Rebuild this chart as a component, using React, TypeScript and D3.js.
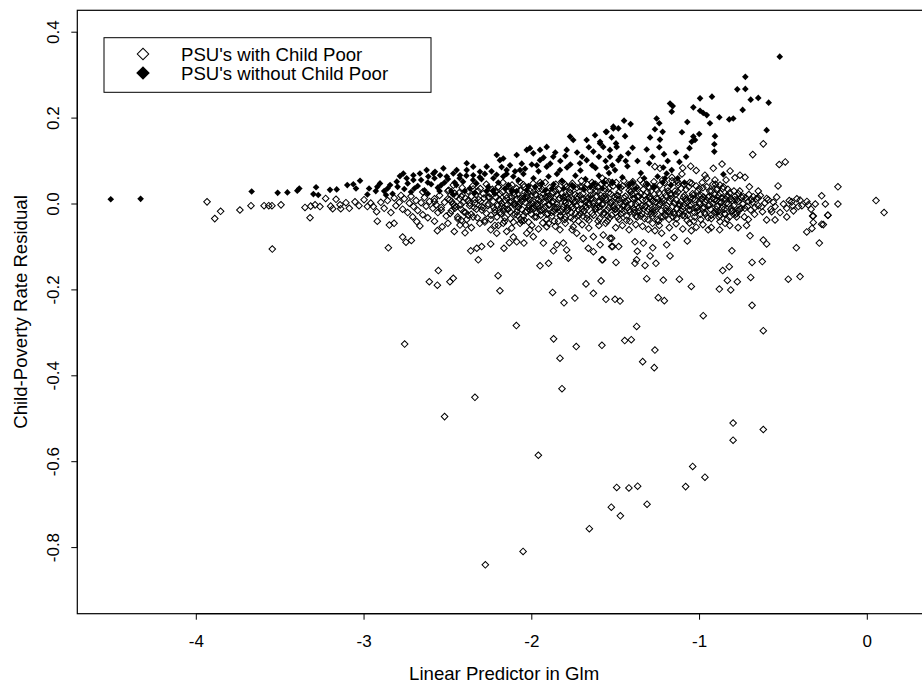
import React from 'react';
import * as d3 from 'd3';

// PSU's with child poor (open diamonds) — [linear predictor, residual]
const hollowLeft: [number, number][] = [
  [-3.936, 0.005], [-3.89, -0.034], [-3.855, -0.017], [-3.74, -0.014], [-3.674, -0.004],
  [-3.596, -0.004], [-3.568, -0.004], [-3.549, -0.004], [-3.495, -0.002], [-3.547, -0.105],
  [-3.352, -0.008], [-3.318, -0.005], [-3.292, -0.002], [-3.263, -0.006], [-3.229, 0.013],
  [-3.199, -0.005], [-3.167, 0.011], [-3.143, -0.002], [-3.108, 0.003], [-3.088, -0.01],
  [-3.054, 0.005], [-3.322, -0.032], [-3.187, -0.011], [-3.139, -0.011], [-3.03, -0.004],
  [-3.0, 0.01], [-2.98, -0.006], [-2.96, 0.002], [-2.945, -0.006], [-2.925, -0.018],
  [-2.921, -0.04], [-2.9, 0.004], [-2.88, -0.01], [-2.86, 0.008], [-2.849, -0.049],
  [-2.821, -0.045], [-2.84, -0.02], [-2.82, 0.014], [-2.81, -0.004], [-2.855, -0.102],
];

const hollowBand: [number, number][] = [
  [-2.79, 0.004], [-2.77, -0.012], [-2.76, 0.012], [-2.74, -0.02], [-2.73, 0.002], [-2.71, -0.03], [-2.72, 0.018], [-2.705, -0.006],
  [-2.69, 0.008], [-2.68, -0.015], [-2.66, 0.003], [-2.65, -0.025], [-2.64, 0.015], [-2.63, -0.005], [-2.62, -0.032], [-2.61, 0.006],
  [-2.59, -0.01], [-2.58, 0.012], [-2.57, -0.002], [-2.56, -0.02], [-2.55, 0.02], [-2.54, -0.008], [-2.52, 0.004], [-2.51, -0.028],
  [-2.49, 0.01], [-2.48, -0.016], [-2.47, 0.0], [-2.46, 0.025], [-2.45, -0.006], [-2.44, -0.035], [-2.43, 0.012], [-2.42, -0.012], [-2.41, 0.004],
  [-2.395, -0.02], [-2.38, 0.008], [-2.37, -0.004], [-2.36, 0.018], [-2.35, -0.03], [-2.34, 0.002], [-2.33, -0.012], [-2.32, 0.03], [-2.31, -0.045], [-2.305, 0.006],
  [-2.29, -0.008], [-2.285, 0.014], [-2.27, -0.022], [-2.26, 0.0], [-2.25, 0.024], [-2.245, -0.036], [-2.23, 0.006], [-2.22, -0.014], [-2.215, 0.016], [-2.205, -0.004], [-2.2, -0.05],
  [-2.195, 0.01], [-2.19, -0.02], [-2.18, 0.002], [-2.175, 0.028], [-2.165, -0.01], [-2.16, -0.032], [-2.15, 0.014], [-2.145, -0.002], [-2.135, 0.04], [-2.13, -0.018], [-2.12, 0.006], [-2.11, -0.042], [-2.105, 0.02],
  [-2.098, -0.006], [-2.09, 0.012], [-2.085, -0.026], [-2.075, 0.0], [-2.07, 0.032], [-2.06, -0.012], [-2.055, 0.018], [-2.045, -0.038], [-2.04, 0.004], [-2.03, -0.016], [-2.025, 0.026], [-2.015, -0.004], [-2.01, 0.01], [-2.002, -0.024],
  [-1.995, 0.008], [-1.988, -0.01], [-1.98, 0.022], [-1.972, -0.03], [-1.965, 0.0], [-1.958, 0.036], [-1.95, -0.016], [-1.942, 0.014], [-1.935, -0.044], [-1.928, 0.004], [-1.92, -0.006], [-1.912, 0.028], [-1.905, -0.022], [-1.9, 0.012],
  [-1.895, -0.002], [-1.888, 0.018], [-1.88, -0.028], [-1.872, 0.006], [-1.865, -0.012], [-1.858, 0.03], [-1.85, 0.0], [-1.842, -0.04], [-1.835, 0.014], [-1.828, -0.018], [-1.82, 0.024], [-1.812, -0.006], [-1.805, 0.008], [-1.8, -0.03],
  [-1.795, 0.016], [-1.788, -0.008], [-1.78, 0.002], [-1.772, 0.034], [-1.765, -0.02], [-1.758, 0.01], [-1.75, -0.036], [-1.742, 0.022], [-1.735, -0.004], [-1.728, 0.012], [-1.72, -0.026], [-1.712, 0.04], [-1.705, 0.0], [-1.7, -0.012],
  [-1.695, 0.024], [-1.688, -0.016], [-1.68, 0.006], [-1.672, -0.034], [-1.665, 0.014], [-1.658, -0.002], [-1.65, 0.03], [-1.642, -0.022], [-1.635, 0.002], [-1.628, 0.044], [-1.62, -0.01], [-1.612, 0.018], [-1.605, -0.04], [-1.6, 0.008],
  [-1.595, -0.006], [-1.588, 0.02], [-1.58, 0.0], [-1.572, -0.024], [-1.565, 0.036], [-1.558, 0.01], [-1.55, -0.014], [-1.542, 0.026], [-1.535, -0.032], [-1.528, 0.004], [-1.52, 0.05], [-1.512, -0.008], [-1.505, 0.016], [-1.5, -0.02],
  [-1.495, 0.012], [-1.488, -0.03], [-1.48, 0.028], [-1.472, 0.002], [-1.465, -0.012], [-1.458, 0.042], [-1.45, -0.004], [-1.442, 0.018], [-1.435, -0.038], [-1.428, 0.008], [-1.42, 0.032], [-1.412, -0.018], [-1.405, 0.0], [-1.4, 0.022],
  [-1.395, -0.01], [-1.388, 0.014], [-1.38, -0.028], [-1.372, 0.036], [-1.365, 0.004], [-1.358, -0.016], [-1.35, 0.024], [-1.342, -0.004], [-1.335, 0.048], [-1.328, -0.034], [-1.32, 0.01], [-1.312, 0.028], [-1.305, -0.012], [-1.3, 0.002],
  [-1.295, 0.018], [-1.288, -0.022], [-1.28, 0.006], [-1.272, 0.04], [-1.265, -0.008], [-1.258, 0.014], [-1.25, -0.036], [-1.242, 0.026], [-1.235, 0.0], [-1.228, -0.016], [-1.22, 0.056], [-1.212, 0.008], [-1.205, -0.026], [-1.2, 0.02],
  [-1.195, -0.004], [-1.188, 0.03], [-1.18, -0.018], [-1.172, 0.012], [-1.165, 0.062], [-1.158, -0.03], [-1.15, 0.002], [-1.142, 0.022], [-1.135, -0.01], [-1.128, 0.044], [-1.12, -0.022], [-1.112, 0.006], [-1.105, 0.07], [-1.1, -0.006],
  [-1.095, 0.016], [-1.088, -0.028], [-1.08, 0.034], [-1.072, 0.004], [-1.065, -0.014], [-1.058, 0.05], [-1.05, -0.002], [-1.042, 0.024], [-1.035, -0.04], [-1.028, 0.01], [-1.02, 0.078], [-1.012, -0.016], [-1.005, 0.02], [-1.0, 0.0],
  [-0.995, -0.024], [-0.988, 0.012], [-0.98, 0.038], [-0.972, -0.008], [-0.965, 0.004], [-0.958, 0.06], [-0.95, -0.032], [-0.942, 0.018], [-0.935, -0.012], [-0.928, 0.03], [-0.92, 0.002], [-0.912, -0.02], [-0.905, 0.046], [-0.9, 0.008],
  [-0.895, -0.006], [-0.886, 0.02], [-0.878, -0.026], [-0.87, 0.004], [-0.862, 0.036], [-0.853, -0.012], [-0.845, 0.012], [-0.836, -0.036], [-0.828, 0.0], [-0.82, 0.026], [-0.812, -0.016], [-0.805, 0.008],
  [-0.796, -0.004], [-0.788, 0.018], [-0.778, -0.022], [-0.77, 0.006], [-0.76, 0.03], [-0.752, -0.01], [-0.742, 0.0], [-0.733, -0.03], [-0.724, 0.014], [-0.715, -0.006], [-0.706, 0.022],
  [-0.695, -0.014], [-0.685, 0.004], [-0.672, -0.024], [-0.662, 0.012], [-0.65, -0.004], [-0.638, 0.02], [-0.625, -0.018], [-0.612, 0.002],
  [-0.59, 0.01], [-0.575, -0.012], [-0.56, 0.004], [-0.54, 0.016], [-0.52, -0.02], [-0.5, 0.0], [-0.465, 0.008], [-0.44, -0.016], [-0.42, 0.012], [-0.39, -0.004], [-0.36, 0.006], [-0.335, -0.012], [-0.31, 0.0],
];

const hollowCore: [number, number][] = [
  [-2.18, -0.006], [-2.16, 0.008], [-2.14, -0.012], [-2.12, 0.016], [-2.1, 0.0], [-2.08, -0.008], [-2.06, 0.006], [-2.04, 0.014], [-2.02, -0.01], [-2.0, 0.002],
  [-1.98, -0.004], [-1.96, 0.01], [-1.94, -0.014], [-1.92, 0.016], [-1.9, -0.002], [-1.88, 0.004], [-1.86, -0.008], [-1.84, 0.01], [-1.82, -0.012], [-1.8, 0.002],
  [-1.78, 0.012], [-1.76, -0.006], [-1.74, 0.006], [-1.72, -0.014], [-1.7, 0.01], [-1.68, -0.004], [-1.66, 0.002], [-1.64, 0.012], [-1.62, -0.012], [-1.6, 0.004],
  [-1.58, -0.002], [-1.56, 0.014], [-1.54, -0.008], [-1.52, 0.006], [-1.5, -0.012], [-1.48, 0.01], [-1.46, -0.004], [-1.44, 0.004], [-1.42, -0.014], [-1.4, 0.012],
  [-1.38, 0.0], [-1.36, -0.008], [-1.34, 0.01], [-1.32, -0.004], [-1.3, 0.014], [-1.28, -0.012], [-1.26, 0.004], [-1.24, -0.002], [-1.22, 0.012], [-1.2, -0.01],
  [-1.18, 0.006], [-1.16, -0.006], [-1.14, 0.01], [-1.12, 0.0], [-1.1, -0.012], [-1.08, 0.008], [-1.06, -0.004], [-1.04, 0.012], [-1.02, -0.008], [-1.0, 0.004],
  [-0.98, -0.01], [-0.96, 0.01], [-0.94, -0.002], [-0.92, 0.014], [-0.9, -0.012], [-0.88, 0.006], [-0.86, -0.006], [-0.84, 0.002],
];

const hollowCore2: [number, number][] = [
  [-2.58, 0.006], [-2.54, -0.014], [-2.5, 0.012], [-2.46, -0.004], [-2.42, 0.018], [-2.38, -0.026], [-2.34, 0.01], [-2.3, -0.006],
  [-2.26, 0.016], [-2.22, -0.02], [-2.19, 0.024], [-2.17, -0.016], [-2.13, 0.004], [-2.11, 0.026], [-2.09, -0.018], [-2.07, 0.014],
  [-2.05, -0.028], [-2.03, 0.02], [-2.01, -0.014], [-1.99, 0.028], [-1.97, -0.02], [-1.95, 0.006], [-1.93, 0.024], [-1.91, -0.024],
  [-1.89, 0.012], [-1.87, -0.018], [-1.85, 0.022], [-1.83, -0.026], [-1.81, 0.016], [-1.79, -0.016], [-1.77, 0.026], [-1.75, -0.01],
  [-1.73, 0.018], [-1.71, -0.022], [-1.69, 0.012], [-1.67, -0.026], [-1.65, 0.02], [-1.63, -0.006], [-1.61, 0.03], [-1.59, -0.018],
  [-1.57, 0.018], [-1.55, -0.028], [-1.53, 0.024], [-1.51, -0.004], [-1.49, 0.02], [-1.47, -0.024], [-1.45, 0.014], [-1.43, -0.008],
  [-1.41, 0.028], [-1.39, -0.02], [-1.37, 0.018], [-1.35, -0.028], [-1.33, 0.02], [-1.31, -0.018], [-1.29, 0.03], [-1.27, -0.022],
  [-1.25, 0.012], [-1.23, -0.03], [-1.21, 0.026], [-1.19, -0.018], [-1.17, 0.02], [-1.15, -0.024], [-1.13, 0.028], [-1.11, -0.016],
  [-1.09, 0.02], [-1.07, -0.026], [-1.05, 0.016], [-1.03, -0.02], [-1.01, 0.03], [-0.99, 0.02], [-0.97, -0.02], [-0.95, 0.016],
  [-0.93, -0.026], [-0.91, 0.022], [-0.89, -0.018], [-0.87, 0.014], [-0.85, -0.022], [-0.83, 0.018], [-0.81, -0.01], [-0.79, 0.01],
  [-0.77, -0.014], [-0.75, 0.016], [-0.73, -0.01], [-0.71, 0.006], [-0.69, 0.01], [-0.67, -0.008], [-0.65, 0.014], [-0.63, -0.006],
];

const hollowDense: [number, number][] = [
  [-2.495, 0.032], [-2.487, -0.022], [-2.478, 0.006], [-2.468, 0.044], [-2.459, -0.01], [-2.451, 0.018], [-2.442, -0.03], [-2.433, 0.026], [-2.424, -0.002], [-2.415, 0.038],
  [-2.406, -0.018], [-2.397, 0.014], [-2.388, -0.036], [-2.379, 0.03], [-2.37, 0.002], [-2.361, -0.024], [-2.352, 0.042], [-2.343, -0.008], [-2.334, 0.022], [-2.325, -0.032],
  [-2.316, 0.01], [-2.307, 0.036], [-2.298, -0.014], [-2.289, 0.024], [-2.28, -0.038], [-2.271, 0.046], [-2.262, -0.004], [-2.253, 0.016], [-2.244, -0.026], [-2.235, 0.034],
  [-2.226, -0.008], [-2.217, 0.028], [-2.208, -0.03], [-2.199, 0.04], [-2.19, 0.008], [-2.181, -0.022], [-2.172, 0.05], [-2.163, -0.04], [-2.154, 0.02], [-2.145, -0.012],
  [-2.136, 0.03], [-2.127, -0.034], [-2.118, 0.044], [-2.109, 0.0], [-2.1, -0.024], [-2.091, 0.036], [-2.082, -0.006], [-2.073, 0.052], [-2.064, -0.036], [-2.055, 0.012],
  [-2.046, 0.04], [-2.037, -0.02], [-2.028, 0.016], [-2.019, -0.042], [-2.01, 0.03], [-2.001, -0.01], [-1.992, 0.048], [-1.983, -0.03], [-1.974, 0.022], [-1.965, -0.004],
  [-1.956, 0.042], [-1.947, -0.026], [-1.938, 0.034], [-1.929, -0.012], [-1.92, 0.05], [-1.911, -0.036], [-1.902, 0.018], [-1.893, 0.038], [-1.884, -0.02], [-1.875, 0.026],
  [-1.866, -0.04], [-1.857, 0.046], [-1.848, -0.008], [-1.839, 0.034], [-1.83, -0.028], [-1.821, 0.052], [-1.812, 0.016], [-1.803, -0.036], [-1.794, 0.04], [-1.785, -0.014],
  [-1.776, 0.028], [-1.767, -0.032], [-1.758, 0.048], [-1.749, 0.004], [-1.74, -0.022], [-1.731, 0.038], [-1.722, -0.04], [-1.713, 0.02], [-1.704, 0.054], [-1.695, -0.028],
  [-1.686, 0.036], [-1.677, -0.01], [-1.668, 0.046], [-1.659, -0.038], [-1.65, 0.012], [-1.641, 0.05], [-1.632, -0.026], [-1.623, 0.03], [-1.614, -0.006], [-1.605, 0.04],
  [-1.596, -0.034], [-1.587, 0.046], [-1.578, 0.014], [-1.569, -0.02], [-1.56, 0.054], [-1.551, -0.04], [-1.542, 0.036], [-1.533, 0.002], [-1.524, -0.026], [-1.515, 0.042],
  [-1.506, -0.012], [-1.497, 0.05], [-1.488, 0.02], [-1.479, -0.036], [-1.47, 0.038], [-1.461, -0.02], [-1.452, 0.054], [-1.443, 0.006], [-1.434, -0.028], [-1.425, 0.044],
  [-1.416, -0.04], [-1.407, 0.03], [-1.398, 0.052], [-1.389, -0.014], [-1.38, 0.04], [-1.371, -0.03], [-1.362, 0.018], [-1.353, 0.056], [-1.344, -0.022], [-1.335, 0.034],
  [-1.326, -0.006], [-1.317, 0.046], [-1.308, -0.036], [-1.299, 0.038], [-1.29, 0.012], [-1.281, -0.028], [-1.272, 0.052], [-1.263, -0.014], [-1.254, 0.032], [-1.245, -0.04],
  [-1.236, 0.044], [-1.227, 0.004], [-1.218, -0.03], [-1.209, 0.05], [-1.2, -0.016], [-1.191, 0.038], [-1.182, -0.036], [-1.173, 0.024], [-1.164, 0.054], [-1.155, -0.02],
  [-1.146, 0.03], [-1.137, -0.034], [-1.128, 0.05], [-1.119, -0.004], [-1.11, 0.036], [-1.101, -0.026], [-1.092, 0.046], [-1.083, 0.012], [-1.074, -0.038], [-1.065, 0.04],
  [-1.056, -0.014], [-1.047, 0.048], [-1.038, 0.02], [-1.029, -0.03], [-1.02, 0.042], [-1.011, -0.008], [-1.002, 0.036], [-0.993, -0.036], [-0.984, 0.05], [-0.975, 0.016],
  [-0.966, -0.024], [-0.957, 0.04], [-0.948, -0.004], [-0.939, 0.03], [-0.93, -0.034], [-0.921, 0.046], [-0.912, 0.01], [-0.903, -0.018], [-0.894, 0.036], [-0.885, -0.03],
  [-0.876, 0.024], [-0.867, -0.01], [-0.858, 0.04], [-0.849, -0.024], [-0.84, 0.018], [-0.831, 0.034], [-0.822, -0.03], [-0.813, 0.012], [-0.804, -0.016], [-0.795, 0.03],
  [-0.786, -0.024], [-0.777, 0.01], [-0.768, 0.024], [-0.759, -0.012],
];

const hollowEdge: [number, number][] = [
  [-2.58, -0.04], [-2.5, -0.045], [-2.42, -0.038], [-2.36, -0.055], [-2.28, -0.042], [-2.22, -0.05], [-2.17, -0.045], [-2.12, -0.056],
  [-2.06, -0.04], [-2.0, -0.05], [-1.96, -0.058], [-1.9, -0.045], [-1.86, -0.052], [-1.8, -0.045], [-1.76, -0.06], [-1.7, -0.048],
  [-1.66, -0.056], [-1.6, -0.05], [-1.56, -0.045], [-1.5, -0.055], [-1.46, -0.05], [-1.42, -0.06], [-1.38, -0.048], [-1.34, -0.052],
  [-1.28, -0.045], [-1.24, -0.05], [-1.18, -0.055], [-1.14, -0.046], [-1.1, -0.058], [-1.06, -0.044], [-1.02, -0.054], [-0.98, -0.048],
  [-0.93, -0.055], [-0.88, -0.06], [-0.82, -0.05], [-0.77, -0.055], [-0.72, -0.05],
  [-1.58, 0.06], [-1.54, 0.052], [-1.62, 0.046], [-1.7, 0.04], [-1.8, 0.045], [-1.95, 0.05], [-2.05, 0.045], [-2.2, 0.04],
  [-2.35, 0.035], [-2.5, 0.03], [-2.65, 0.028], [-2.78, 0.02],
];

const hollowRight: [number, number][] = [
  [-0.62, 0.14], [-0.683, 0.115], [-0.525, 0.092], [-0.489, 0.098], [-0.532, 0.042], [-0.175, 0.04], [-0.866, 0.093],
  [-0.918, 0.083], [-0.818, 0.077], [-0.789, 0.061], [-0.759, 0.067], [-0.729, 0.062], [-1.053, 0.088], [-1.1, 0.084],
  [-1.136, 0.054], [-1.236, 0.083], [-1.266, 0.087], [-0.968, 0.067], [-0.908, 0.056], [-0.878, 0.044], [-0.842, 0.056],
  [-0.898, 0.033], [-0.703, 0.04], [-0.65, 0.03], [-0.739, 0.017], [-0.68, 0.017], [-0.6, 0.013], [-0.55, -0.006],
  [-0.451, 0.005], [-0.401, 0.009], [-0.352, -0.002], [-0.272, 0.019], [-0.25, 0.0], [-0.175, 0.0], [-0.236, -0.026],
  [-0.272, -0.047], [-0.322, -0.028], [-0.48, -0.03], [-0.411, -0.006], [-0.445, -0.004], [-0.48, -0.01], [0.052, 0.008], [0.1, -0.02],
];

const hollowLow: [number, number][] = [
  [-2.77, -0.077], [-2.75, -0.089], [-2.718, -0.085], [-2.686, -0.041], [-2.667, -0.051], [-2.563, -0.062], [-2.534, -0.053],
  [-2.462, -0.064], [-2.398, -0.067], [-2.428, -0.049], [-2.394, -0.049], [-2.557, -0.155], [-2.611, -0.181], [-2.563, -0.189],
  [-2.488, -0.181], [-2.468, -0.173], [-2.364, -0.109], [-2.319, -0.13], [-2.299, -0.099], [-2.328, -0.103], [-2.245, -0.06],
  [-2.209, -0.068], [-2.245, -0.093], [-2.201, -0.167], [-2.19, -0.202], [-2.166, -0.103], [-2.134, -0.09], [-2.11, -0.077],
  [-2.09, -0.088], [-2.047, -0.091], [-2.15, -0.064], [-2.03, -0.068], [-1.991, -0.076], [-1.931, -0.091], [-1.951, -0.144],
  [-1.9, -0.138], [-1.871, -0.109], [-1.851, -0.095], [-1.812, -0.091], [-1.792, -0.107], [-1.782, -0.126], [-1.876, -0.206],
  [-1.808, -0.23], [-1.743, -0.219], [-1.677, -0.186], [-1.633, -0.208], [-1.587, -0.179], [-1.558, -0.222], [-1.504, -0.222],
  [-1.663, -0.103], [-1.633, -0.111], [-1.593, -0.095], [-1.524, -0.099], [-1.498, -0.136], [-1.582, -0.13], [-1.732, -0.068],
  [-1.693, -0.08], [-1.633, -0.076], [-1.574, -0.072], [-1.524, -0.08], [-2.07, -0.045], [-2.011, -0.06], [-1.911, -0.053],
  [-1.832, -0.06], [-1.753, -0.053],
  [-2.758, -0.326], [-2.52, -0.495], [-2.339, -0.45], [-2.277, -0.84], [-2.052, -0.809], [-2.092, -0.283], [-1.961, -0.585],
  [-1.87, -0.314], [-1.832, -0.359], [-1.82, -0.43], [-1.735, -0.332], [-1.657, -0.756], [-1.582, -0.329], [-1.526, -0.706],
  [-1.494, -0.66], [-1.472, -0.726], [-1.446, -0.318], [-1.421, -0.661], [-1.407, -0.316], [-1.375, -0.285], [-1.369, -0.657],
  [-1.339, -0.367], [-1.313, -0.699], [-1.27, -0.381], [-1.266, -0.34], [-1.246, -0.218], [-1.21, -0.225], [-1.083, -0.658],
  [-1.041, -0.611], [-0.968, -0.636], [-0.978, -0.26], [-1.049, -0.192], [-1.474, -0.226],
  [-0.286, -0.091], [-0.262, -0.048], [-0.234, -0.026], [-0.326, -0.028], [-0.322, -0.043], [-0.33, -0.057], [-0.361, -0.065],
  [-0.401, -0.169], [-0.471, -0.175], [-0.423, -0.102], [-0.62, -0.084], [-0.6, -0.093], [-0.626, -0.134], [-0.687, -0.136],
  [-0.699, -0.074], [-0.807, -0.109], [-0.823, -0.146], [-0.862, -0.155], [-0.834, -0.178], [-0.775, -0.181], [-0.882, -0.198],
  [-0.814, -0.2], [-0.695, -0.171], [-0.687, -0.236], [-1.12, -0.175], [-1.216, -0.177], [-1.315, -0.174], [-1.577, -0.13],
  [-1.176, -0.121], [-1.26, -0.138], [-1.325, -0.143], [-1.295, -0.121], [-1.375, -0.13], [-1.385, -0.138], [-1.371, -0.11],
  [-1.279, -0.102], [-1.335, -0.091], [-1.385, -0.088], [-1.073, -0.086], [-1.196, -0.095], [-1.152, -0.078], [-1.518, -0.099],
  [-1.482, -0.099], [-1.534, -0.08], [-1.305, -0.059], [-1.266, -0.062], [-1.226, -0.068], [-1.049, -0.062], [-0.948, -0.06],
  [-0.709, -0.036], [-0.779, -0.03], [-0.848, -0.045], [-0.878, -0.041], [-0.6, -0.037], [-0.55, -0.037], [-0.57, -0.018],
  [-0.8, -0.51], [-0.8, -0.55], [-0.62, -0.525], [-0.62, -0.295],
];

// PSU's without child poor (filled diamonds)
const filledLeft: [number, number][] = [
  [-4.51, 0.011], [-4.332, 0.012], [-3.67, 0.029], [-3.515, 0.026], [-3.457, 0.027], [-3.398, 0.031], [-3.386, 0.036],
  [-3.286, 0.039], [-3.302, 0.023], [-3.273, 0.021], [-3.203, 0.033], [-3.163, 0.034], [-3.1, 0.044], [-3.064, 0.046],
  [-3.048, 0.036], [-3.024, 0.054], [-2.97, 0.036], [-2.921, 0.04], [-2.905, 0.048], [-2.869, 0.021], [-2.845, 0.044],
  [-2.805, 0.052], [-2.786, 0.065], [-2.746, 0.06], [-2.706, 0.067], [-2.667, 0.071], [-2.627, 0.079], [-2.617, 0.064],
  [-2.577, 0.075], [-2.547, 0.067], [-2.507, 0.064], [-2.468, 0.071], [-2.428, 0.067], [-2.388, 0.095], [-2.349, 0.087],
  [-2.309, 0.075], [-2.269, 0.087], [-2.229, 0.06], [-2.19, 0.102], [-2.15, 0.079], [-2.11, 0.064], [-2.07, 0.079],
  [-2.03, 0.126], [-1.991, 0.118], [-1.951, 0.102], [-1.911, 0.087], [-1.872, 0.11], [-1.832, 0.079], [-1.792, 0.126],
  [-1.753, 0.149], [-1.713, 0.095], [-1.673, 0.102], [-1.633, 0.122], [-1.593, 0.141], [-1.554, 0.168], [-1.514, 0.176],
  [-1.494, 0.133], [-1.534, 0.11], [-1.623, 0.16], [-1.673, 0.149], [-1.772, 0.157], [-1.951, 0.126], [-1.911, 0.133],
  [-2.011, 0.13], [-2.09, 0.114], [-2.17, 0.106], [-2.209, 0.114], [-2.388, 0.079], [-2.349, 0.067], [-2.448, 0.079],
  [-2.527, 0.083], [-2.587, 0.071], [-2.706, 0.056], [-2.766, 0.071],
];

const filledBand: [number, number][] = [
  [-2.88, 0.03], [-2.83, 0.024], [-2.76, 0.035], [-2.72, 0.028], [-2.68, 0.042], [-2.64, 0.032], [-2.6, 0.046], [-2.56, 0.038],
  [-2.52, 0.05], [-2.48, 0.03], [-2.45, 0.044], [-2.41, 0.052], [-2.37, 0.036], [-2.33, 0.048], [-2.3, 0.058], [-2.26, 0.04],
  [-2.23, 0.032], [-2.2, 0.05], [-2.17, 0.064], [-2.14, 0.044], [-2.12, 0.03], [-2.08, 0.056], [-2.05, 0.07], [-2.02, 0.042],
  [-1.99, 0.06], [-1.96, 0.076], [-1.94, 0.048], [-1.9, 0.064], [-1.88, 0.036], [-1.85, 0.07], [-1.82, 0.054], [-1.79, 0.085],
  [-1.76, 0.044], [-1.74, 0.066], [-1.71, 0.078], [-1.68, 0.058], [-1.65, 0.04], [-1.62, 0.084], [-1.6, 0.066], [-1.57, 0.05],
  [-1.54, 0.072], [-1.46, 0.062], [-1.43, 0.088], [-1.4, 0.05], [-1.37, 0.1], [-1.35, 0.072], [-1.33, 0.06], [-1.28, 0.11],
  [-1.25, 0.064], [-1.19, 0.1], [-1.14, 0.12], [-1.12, 0.098], [-1.08, 0.11], [-1.06, 0.13],
];

const filledBand2: [number, number][] = [
  [-2.98, 0.022], [-2.93, 0.03], [-2.86, 0.036], [-2.8, 0.04], [-2.74, 0.048], [-2.7, 0.036], [-2.66, 0.056], [-2.62, 0.05],
  [-2.58, 0.06], [-2.54, 0.044], [-2.5, 0.058], [-2.46, 0.05], [-2.43, 0.06], [-2.39, 0.066], [-2.35, 0.056], [-2.31, 0.062],
  [-2.28, 0.07], [-2.24, 0.076], [-2.21, 0.068], [-2.18, 0.086], [-2.15, 0.07], [-2.13, 0.09], [-2.1, 0.076], [-2.06, 0.094],
  [-2.04, 0.082], [-2.0, 0.092], [-1.97, 0.09], [-1.93, 0.108], [-1.89, 0.094], [-1.86, 0.12], [-1.83, 0.1], [-1.8, 0.112],
  [-1.77, 0.092], [-1.73, 0.12], [-1.7, 0.11], [-1.66, 0.132], [-1.64, 0.09], [-1.6, 0.11], [-1.56, 0.1], [-1.52, 0.09],
  [-1.47, 0.11], [-1.44, 0.1],
  [-2.62, 0.024], [-2.55, 0.03], [-2.47, 0.022], [-2.4, 0.03], [-2.34, 0.026], [-2.27, 0.03], [-2.22, 0.024], [-2.16, 0.036],
  [-2.09, 0.03], [-2.03, 0.032], [-1.98, 0.04], [-1.92, 0.032], [-1.87, 0.046], [-1.81, 0.036], [-1.75, 0.04], [-1.69, 0.034],
  [-1.63, 0.048], [-1.58, 0.036], [-1.52, 0.05], [-1.48, 0.04], [-1.42, 0.044], [-1.38, 0.036], [-1.31, 0.046], [-1.27, 0.04],
  [-1.22, 0.05], [-1.17, 0.044], [-1.13, 0.06], [-1.09, 0.05],
];

const filledRight: [number, number][] = [
  [-0.727, 0.296], [-0.775, 0.267], [-0.727, 0.268], [-0.695, 0.243], [-0.65, 0.247], [-0.588, 0.236], [-0.743, 0.219],
  [-0.823, 0.197], [-0.799, 0.199], [-0.882, 0.202], [-0.6, 0.172], [-0.926, 0.25], [-0.997, 0.246], [-1.037, 0.225],
  [-0.997, 0.217], [-0.978, 0.212], [-0.957, 0.207], [-1.073, 0.191], [-0.938, 0.188], [-1.176, 0.234], [-1.16, 0.228],
  [-1.166, 0.215], [-1.105, 0.167], [-1.037, 0.157], [-1.027, 0.149], [-1.047, 0.145], [-1.002, 0.163], [-0.908, 0.158],
  [-0.912, 0.139], [-0.912, 0.122], [-1.256, 0.199], [-1.24, 0.188], [-1.266, 0.174], [-1.22, 0.168], [-1.295, 0.155],
  [-1.236, 0.15], [-1.315, 0.127], [-1.24, 0.132], [-1.212, 0.116], [-1.399, 0.131], [-1.425, 0.118], [-1.444, 0.158],
  [-1.411, 0.186], [-1.45, 0.194], [-1.484, 0.176], [-1.514, 0.18], [-1.558, 0.168], [-1.524, 0.155], [-1.498, 0.141],
  [-1.534, 0.126], [-1.484, 0.102], [-1.554, 0.085], [-1.504, 0.079], [-1.593, 0.145], [-1.574, 0.133], [-1.3, 0.095],
  [-1.216, 0.085], [-1.166, 0.079], [-1.196, 0.071], [-0.858, 0.069], [-1.206, 0.06], [-0.522, 0.343],
];

const xTicks = [-4, -3, -2, -1, 0];
const yTicks = [-0.8, -0.6, -0.4, -0.2, 0.0, 0.2, 0.4];
const legendLabels = ["PSU's with Child Poor", "PSU's without Child Poor"];

const W = 922;
const H = 684;
const font = '"Liberation Sans", Arial, Helvetica, sans-serif';

export default function App() {
  const x = d3.scaleLinear().domain([-4, 0]).range([196.3, 867.3]);
  const y = d3.scaleLinear().domain([0, -0.8]).range([204, 547.6]);

  const box = { left: 77.3, right: 931, top: 10.3, bottom: 613.7 };

  const hollowSym = d3.symbol(d3.symbolSquare, 22)();
  const filledSym = d3.symbol(d3.symbolSquare, 22)();
  const legHollow = d3.symbol(d3.symbolSquare, 66)();
  const legFilled = d3.symbol(d3.symbolSquare, 92)();

  const hollow = [
    ...hollowLeft, ...hollowBand, ...hollowCore, ...hollowCore2, ...hollowDense,
    ...hollowEdge, ...hollowRight, ...hollowLow,
  ];
  const filled = [...filledLeft, ...filledBand, ...filledBand2, ...filledRight];

  return (
    <svg
      width={W}
      height={H}
      style={{ position: 'absolute', left: 0, top: 0, background: '#fff' }}
      fontFamily={font}
    >
      <rect x={0} y={0} width={W} height={H} fill="#fff" />

      {/* points */}
      <g fill="none" stroke="#000" strokeWidth={1}>
        {hollow.map((d, i) => (
          <path key={'h' + i} d={hollowSym!} transform={`translate(${x(d[0])},${y(d[1])}) rotate(45)`} />
        ))}
      </g>
      <g fill="#000">
        {filled.map((d, i) => (
          <path key={'f' + i} d={filledSym!} transform={`translate(${x(d[0])},${y(d[1])}) rotate(45)`} />
        ))}
      </g>

      {/* frame */}
      <rect
        x={box.left}
        y={box.top}
        width={box.right - box.left}
        height={box.bottom - box.top}
        fill="none"
        stroke="#000"
        strokeWidth={1.2}
      />

      {/* x axis */}
      <g>
        <line x1={x(-4)} x2={x(0)} y1={box.bottom} y2={box.bottom} stroke="#000" strokeWidth={1.2} />
        {xTicks.map(t => (
          <g key={t}>
            <line x1={x(t)} x2={x(t)} y1={box.bottom} y2={box.bottom + 6} stroke="#000" />
            <text x={x(t)} y={647} textAnchor="middle" fontSize={17}>
              {String(t)}
            </text>
          </g>
        ))}
        <text x={(box.left + box.right) / 2} y={680} textAnchor="middle" fontSize={18.6}>
          Linear Predictor in Glm
        </text>
      </g>

      {/* y axis */}
      <g>
        <line x1={box.left} x2={box.left} y1={y(-0.8)} y2={y(0.4)} stroke="#000" strokeWidth={1.2} />
        {yTicks.map(t => (
          <g key={t}>
            <line x1={box.left - 6} x2={box.left} y1={y(t)} y2={y(t)} stroke="#000" />
            <text transform={`translate(58.5,${y(t)}) rotate(-90)`} textAnchor="middle" fontSize={17}>
              {t.toFixed(1)}
            </text>
          </g>
        ))}
        <text
          transform={`translate(26.5,${(box.top + box.bottom) / 2}) rotate(-90)`}
          textAnchor="middle"
          fontSize={18.6}
        >
          Child-Poverty Rate Residual
        </text>
      </g>

      {/* legend */}
      <g>
        <rect x={104} y={37.7} width={327} height={54.6} fill="#fff" stroke="#000" strokeWidth={1} />
        <path d={legHollow!} transform="translate(143,54) rotate(45)" fill="none" stroke="#000" strokeWidth={1} />
        <path d={legFilled!} transform="translate(143,73) rotate(45)" fill="#000" />
        <text x={181} y={61} fontSize={18.6}>{legendLabels[0]}</text>
        <text x={181} y={80} fontSize={18.6}>{legendLabels[1]}</text>
      </g>
    </svg>
  );
}
